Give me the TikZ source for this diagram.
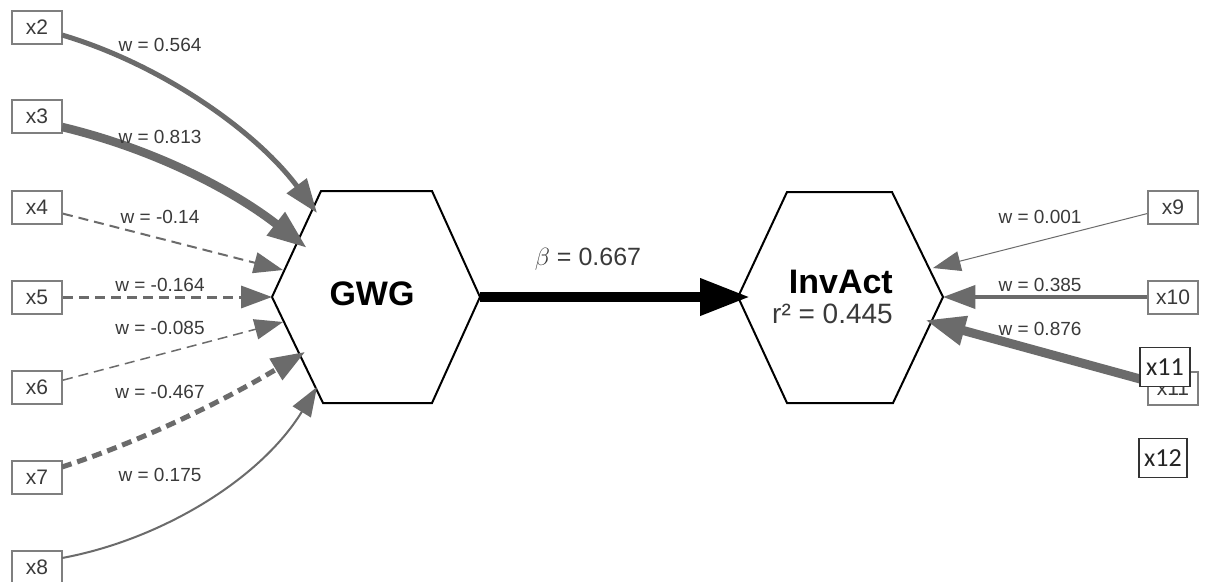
\documentclass[tikz,border=0pt]{standalone}
\usepackage{fontspec}
\setmainfont{Liberation Sans}
\newfontfamily\carlito{Carlito}
\usetikzlibrary{arrows.meta}
\definecolor{edgegray}{HTML}{6B6B6B}
\definecolor{boxgray}{HTML}{7F7F7F}
\definecolor{txtgray}{HTML}{3A3A3A}
\begin{document}
\begin{tikzpicture}[x=1pt,y=-1pt,
  ibox/.style={draw=boxgray, line width=2pt, fill=white, minimum width=50pt, minimum height=33pt, inner sep=0pt, text=txtgray, font=\fontsize{21}{21}\selectfont},
  kbox/.style={draw=black!80, line width=1.5pt, fill=white, minimum width=48pt, minimum height=39pt, inner sep=0pt, text=black!85, font=\carlito\fontsize{26}{26}\selectfont},
  wlabel/.style={text=txtgray, inner sep=0pt, font=\fontsize{19}{19}\selectfont},
  hexa/.style={draw=black, line width=2pt, line join=miter, fill=white},
  conn/.style={draw=edgegray, -{Triangle[length=26pt 1.6, width=19pt 1.0]}},
  dashy/.style={dash pattern=on 10pt off 6pt},
  beta/.style={draw=black, line width=10pt, -{Triangle[length=50pt, width=35pt]}},
]
\useasboundingbox[fill=white] (0,0) rectangle (1206,581);

% hexagon corners
\coordinate (gl) at (272,297); \coordinate (gtl) at (321,191); \coordinate (gtr) at (432,191);
\coordinate (gr) at (480,297); \coordinate (gbr) at (432,403); \coordinate (gbl) at (323,403);
\coordinate (il) at (738,297); \coordinate (itl) at (787,192); \coordinate (itr) at (892,192);
\coordinate (ir) at (943,297); \coordinate (ibr) at (893,403); \coordinate (ibl) at (787,403);

\draw[hexa] (gl) -- (gtl) -- (gtr) -- (gr) -- (gbr) -- (gbl) -- cycle;
\draw[hexa] (il) -- (itl) -- (itr) -- (ir) -- (ibr) -- (ibl) -- cycle;

\node[anchor=base, inner sep=0pt, font=\fontsize{34}{34}\selectfont\bfseries] (GWG) at (372,305) {GWG};
\node[anchor=base east, inner sep=0pt, font=\fontsize{34}{34}\selectfont\bfseries] (InvAct) at (893,293) {InvAct};
\node[anchor=base east, inner sep=0pt, text=txtgray, font=\fontsize{28}{28}\selectfont] (r2) at (893,323) {r² = 0.445};

% arrow tip points
\coordinate (t2) at (317,213); \coordinate (t3) at (307,248); \coordinate (t4) at (283,270);
\coordinate (t5) at (272,297); \coordinate (t6) at (283,322); \coordinate (t7) at (305,352);
\coordinate (t8) at (317,387);
\coordinate (t9) at (933,268); \coordinate (t10) at (943,297); \coordinate (t11) at (925,320);
\coordinate (bt) at (750,297);

% indicator boxes
\node[ibox] (x2) at (37,27) {x2};
\node[ibox] (x3) at (37,116) {x3};
\node[ibox] (x4) at (37,207) {x4};
\node[ibox] (x5) at (37,297) {x5};
\node[ibox] (x6) at (37,387) {x6};
\node[ibox] (x7) at (37,477) {x7};
\node[ibox] (x8) at (37,567) {x8};
\node[ibox] (x9) at (1173,207) {x9};
\node[ibox] (x10) at (1173,297) {x10};
\node[ibox] (x11g) at (1173,388) {x11};

% curve start points on the box borders
\coordinate (s2) at (62,35); \coordinate (s3) at (62,127);
\coordinate (s7) at (62,467); \coordinate (s8) at (62,558);

% connectors
\draw[conn, line width=5pt] (s2) .. controls (160,64) and (255,130) .. (t2);
\draw[conn, line width=8.5pt] (s3) .. controls (150,148) and (230,188) .. (t3);
\draw[conn, dashy, line width=2pt] (x4) -- (t4);
\draw[conn, dashy, line width=3pt] (x5) -- (t5);
\draw[conn, dashy, line width=1.5pt] (x6) -- (t6);
\draw[conn, dashy, line width=5pt] (s7) .. controls (145,440) and (225,400) .. (t7);
\draw[conn, line width=2pt] (s8) .. controls (160,540) and (260,480) .. (t8);
\draw[conn, line width=1pt] (x9) -- (t9);
\draw[conn, line width=4pt] (x10) -- (t10);
\draw[conn, line width=9pt] (x11g) -- (t11);
\draw[beta] (gr) -- (bt);

% weight labels
\node[wlabel] (w2) at (160,45) {w = 0.564};
\node[wlabel] (w3) at (160,137) {w = 0.813};
\node[wlabel] (w4) at (160,217) {w = -0.14};
\node[wlabel] (w5) at (160,285) {w = -0.164};
\node[wlabel] (w6) at (160,328) {w = -0.085};
\node[wlabel] (w7) at (160,392) {w = -0.467};
\node[wlabel] (w8) at (160,475) {w = 0.175};
\node[wlabel] (w9) at (1040,217) {w = 0.001};
\node[wlabel] (w10) at (1040,285) {w = 0.385};
\node[wlabel] (w11) at (1040,329) {w = 0.876};
\node[anchor=base, inner sep=0pt, text=txtgray, font=\fontsize{25}{25}\selectfont] (betalab) at (588,265) {$\beta$ = 0.667};

% black-bordered boxes on top
\node[kbox, minimum width=50pt] (x11) at (1165,367) {x11};
\node[kbox] (x12) at (1163,458) {x12};
\end{tikzpicture}
\end{document}
